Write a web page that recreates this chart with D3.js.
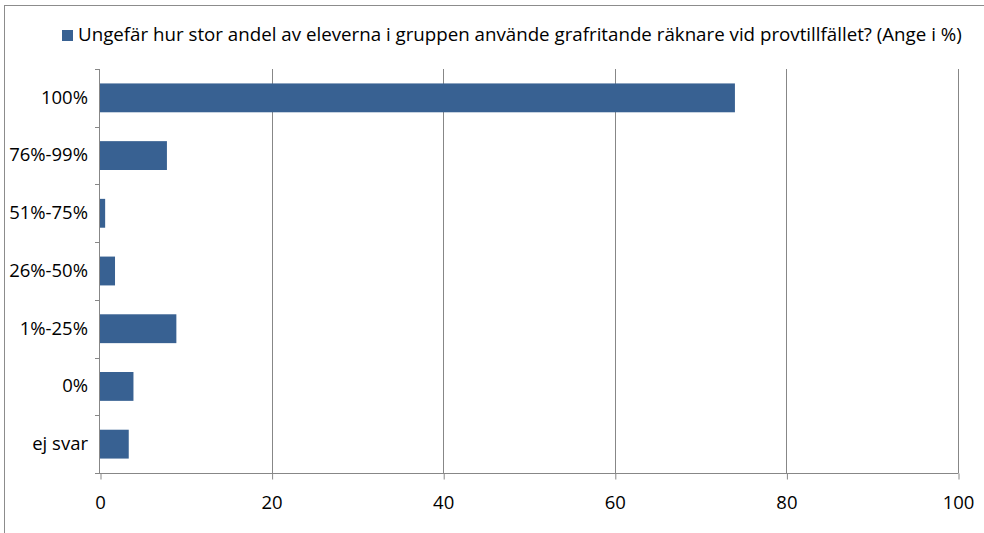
<!DOCTYPE html>
<html><head><meta charset="utf-8">
<script src="https://cdn.jsdelivr.net/npm/d3@7"></script>
<style>
html,body{margin:0;padding:0;background:#fff;overflow:hidden;}
text{font-family:"Open Sans","Noto Sans",sans-serif;fill:#000;}
</style></head>
<body>
<svg id="c" width="984" height="533"></svg>
<script>
const categories = ["100%","76%-99%","51%-75%","26%-50%","1%-25%","0%","ej svar"];
const values = [74.0, 7.8, 0.6, 1.75, 8.9, 3.9, 3.35];
const xTicks = [0,20,40,60,80,100];
const legendLabel = "Ungefär hur stor andel av eleverna i gruppen använde grafritande räknare vid provtillfället? (Ange i %)";

const svg = d3.select("#c");
const plot = {left:100, right:958, top:69, bottom:473};
const barColor = "#386192";
const gridColor = "#878787";
const tickFont = 18.5;

// outer chart border
svg.append("rect").attr("x",4.5).attr("y",5.5).attr("width",1000).attr("height",600)
  .attr("fill","#fff").attr("stroke","#8c8c8c").attr("stroke-width",1);

const x = d3.scaleLinear().domain([0,100]).range([plot.left, plot.right]);
const y = d3.scaleBand().domain(categories).range([plot.top, plot.bottom])
  .paddingInner(0.5).paddingOuter(0.25);

// gridlines
svg.append("g").selectAll("line").data(xTicks.slice(1)).join("line")
  .attr("x1",d=>Math.round(x(d))+0.5).attr("x2",d=>Math.round(x(d))+0.5)
  .attr("y1",plot.top).attr("y2",plot.bottom)
  .attr("stroke",gridColor).attr("stroke-width",1);

// bars
svg.append("g").selectAll("rect").data(categories).join("rect")
  .attr("x",x(0)).attr("y",d=>y(d))
  .attr("width",(d,i)=>x(values[i])-x(0)).attr("height",y.bandwidth())
  .attr("fill",barColor);

// x axis
const xAxis = d3.axisBottom(x).tickValues(xTicks).tickSize(6).tickPadding(16).tickFormat(d3.format("d"));
const gx = svg.append("g").attr("transform",`translate(0,${plot.bottom+0.5})`).call(xAxis);
gx.select(".domain").attr("stroke",gridColor).attr("d",`M${plot.left},0H${plot.right+0.5}`);
gx.selectAll(".tick line").attr("stroke",gridColor).attr("transform","translate(0.5,0)");
gx.selectAll(".tick text").attr("font-size",tickFont).attr("font-family","'Open Sans',sans-serif").attr("fill","#000");

// y axis
const yAxis = d3.axisLeft(y).tickSize(0).tickPadding(11.5);
const gy = svg.append("g").attr("transform",`translate(${plot.left-0.5},0)`).call(yAxis);
gy.select(".domain").attr("stroke",gridColor).attr("d",`M0,${plot.top}V${plot.bottom}`);
gy.selectAll(".tick text").attr("font-size",tickFont).attr("font-family","'Open Sans',sans-serif").attr("fill","#000");
// y tick marks at band boundaries
const bounds = d3.range(categories.length+1).map(i=>plot.top + i*y.step());
svg.append("g").selectAll("line").data(bounds).join("line")
  .attr("x1",plot.left-5).attr("x2",plot.left)
  .attr("y1",d=>Math.round(d)+0.5).attr("y2",d=>Math.round(d)+0.5)
  .attr("stroke",gridColor);

// legend
const lg = svg.append("g");
lg.append("rect").attr("x",62).attr("y",30).attr("width",11).attr("height",11).attr("fill",barColor);
const lt = lg.append("text").attr("x",78).attr("y",41).attr("font-size",16).text(legendLabel);
const target = 884;
const len = lt.node().getComputedTextLength();
lt.attr("font-size", 16*target/len);
</script>
</body></html>
